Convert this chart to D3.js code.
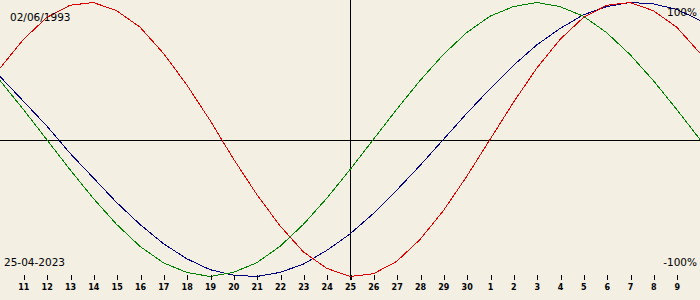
<!DOCTYPE html>
<html>
<head>
<meta charset="utf-8">
<script src="https://cdn.jsdelivr.net/npm/d3@7"></script>
<style>
  html, body { margin: 0; padding: 0; background: #f3efe3; }
  svg { display: block; }
</style>
</head>
<body>
<svg id="chart" width="700" height="300"></svg>
<script>
// Days shown: 10 April 2023 .. 10 May 2023 (index 0..30), centre = 25 April
const dayLabels = ["10","11","12","13","14","15","16","17","18","19","20","21","22","23","24","25","26","27","28","29","30","1","2","3","4","5","6","7","8","9","10"];
const tickIndex = [1,2,3,4,5,6,7,8,9,10,11,12,13,14,15,16,17,18,19,20,21,22,23,24,25,26,27,28,29];
const birthLabel = "02/06/1993";
const dateLabel = "25-04-2023";
const topLabel = "100%";
const bottomLabel = "-100%";

// Physical (red), emotional (green), intellectual (blue) — one value per day
const physical = [0.52,0.73,0.89,0.98,1.00,0.94,0.82,0.63,0.40,0.14,-0.14,-0.40,-0.63,-0.82,-0.94,-1.00,-0.98,-0.89,-0.73,-0.52,-0.27,0.00,0.27,0.52,0.73,0.89,0.98,1.00,0.94,0.82,0.63];
const emotional = [0.43,0.22,0.00,-0.22,-0.43,-0.62,-0.78,-0.90,-0.97,-1.00,-0.97,-0.90,-0.78,-0.62,-0.43,-0.22,0.00,0.22,0.43,0.62,0.78,0.90,0.97,1.00,0.97,0.90,0.78,0.62,0.43,0.22,0.00];
const intellectual = [0.46,0.28,0.10,-0.10,-0.28,-0.46,-0.62,-0.76,-0.87,-0.95,-0.99,-1.00,-0.97,-0.91,-0.81,-0.69,-0.54,-0.37,-0.19,0.00,0.19,0.37,0.54,0.69,0.81,0.91,0.97,1.00,0.99,0.95,0.87];

const W = 700, H = 300;
const svg = d3.select("#chart");
svg.append("rect").attr("width", W).attr("height", H).attr("fill", "#f3efe3");

const x = d3.scaleLinear().domain([0, 30]).range([0, 700]);
const y = d3.scaleLinear().domain([-1, 1]).range([276.5, 2.5]);

// Crosshair
svg.append("line").attr("x1", 0).attr("x2", W)
  .attr("y1", Math.round(y(0)) + 0.5).attr("y2", Math.round(y(0)) + 0.5)
  .attr("stroke", "#000").attr("shape-rendering", "crispEdges");
svg.append("line").attr("x1", Math.round(x(15)) + 0.5).attr("x2", Math.round(x(15)) + 0.5)
  .attr("y1", 0).attr("y2", 280)
  .attr("stroke", "#000").attr("shape-rendering", "crispEdges");

// Curves
const line = d3.line().x((d, i) => x(i)).y(d => y(d));
const series = [
  { values: intellectual, color: "#000080" },
  { values: emotional, color: "#008000" },
  { values: physical, color: "#e00000" }
];
series.forEach(s => {
  svg.append("path").datum(s.values).attr("d", line)
    .attr("fill", "none").attr("stroke", s.color).attr("stroke-width", 1)
    .attr("shape-rendering", "crispEdges");
});

// Day axis
const axis = d3.axisBottom(x).tickValues(tickIndex)
  .tickFormat(i => dayLabels[i]).tickSize(5).tickPadding(4);
const g = svg.append("g").attr("transform", "translate(0,275)").call(axis);
g.select(".domain").remove();
g.selectAll(".tick line").attr("stroke", "#000").attr("shape-rendering", "crispEdges")
  .attr("transform", "translate(0.5,0)");
g.selectAll(".tick text").attr("fill", "#000")
  .style("font-family", "'DejaVu Sans', sans-serif").style("font-size", "8px").style("font-weight", "bold");

// Labels
const txt = (s, xx, yy, anchor) => svg.append("text").text(s).attr("x", xx).attr("y", yy)
  .attr("text-anchor", anchor).attr("fill", "#000")
  .style("font-family", "'DejaVu Sans', sans-serif").style("font-size", "10.5px");
txt(birthLabel, 10, 21, "start");
txt(dateLabel, 4, 266, "start");
txt(topLabel, 697, 16, "end");
txt(bottomLabel, 697, 266, "end");
</script>
</body>
</html>
